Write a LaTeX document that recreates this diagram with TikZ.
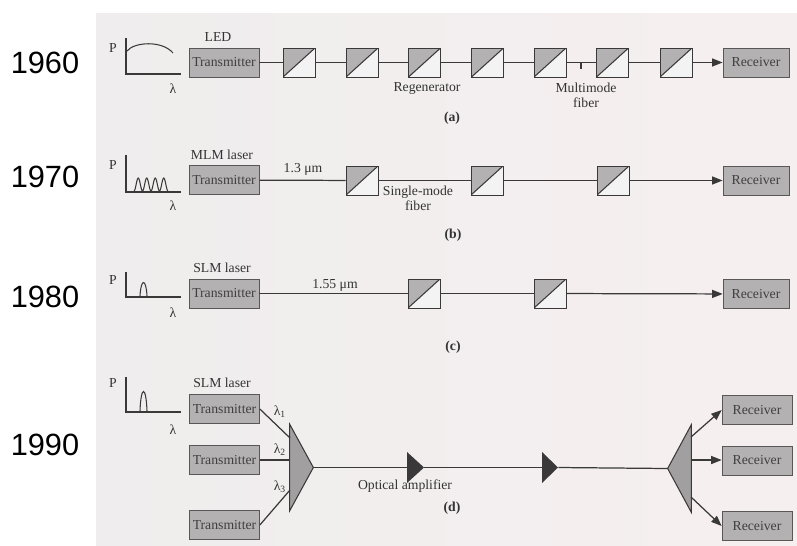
\documentclass[tikz,border=0pt]{standalone}
\usepackage{fontspec}
\setmainfont{Liberation Serif}
\newfontfamily\yearfont{Liberation Sans}
\usepackage{tikz}
\usetikzlibrary{arrows.meta, positioning, calc}
\definecolor{scanleft}{HTML}{EFEDED}
\definecolor{scanright}{HTML}{F6EFF0}
\definecolor{boxgray}{HTML}{B3B1B1}
\definecolor{linegray}{HTML}{3A3838}
\definecolor{lightface}{HTML}{F4F3F3}

\begin{document}
\begin{tikzpicture}[
    x=0.02cm, y=-0.02cm,
    line/.style={draw=linegray, line width=0.7pt},
    arrow/.style={-{Triangle[length=2.1mm, width=1.6mm]}, draw=linegray, line width=0.7pt},
    axis/.style={draw=linegray, line width=0.6pt},
    lbl/.style={font=\fontsize{7.8}{8.5}\selectfont, text=black!80, inner sep=1pt, align=center},
    caplbl/.style={lbl, font=\fontsize{7.8}{8.5}\selectfont\bfseries},
    year/.style={font=\yearfont\fontsize{17.5}{20}\selectfont, inner sep=0pt},
    txbox/.style={rectangle, draw=linegray!85, fill=boxgray, minimum width=1.4cm, minimum height=0.58cm, inner sep=0pt, font=\fontsize{7.8}{9}\selectfont, text=black!75},
    rxbox/.style={txbox, minimum width=1.32cm},
    regen/.style={rectangle, draw=linegray, fill=lightface, minimum width=0.64cm, minimum height=0.58cm, inner sep=0pt,
        path picture={\fill[boxgray] (path picture bounding box.south west) -- (path picture bounding box.north west) -- (path picture bounding box.north east) -- cycle;
            \draw[linegray, line width=0.6pt] (path picture bounding box.south west) -- (path picture bounding box.north east);}},
    amp/.style={rectangle, inner sep=0pt, minimum width=0.34cm, minimum height=0.62cm,
        path picture={\fill[linegray] (path picture bounding box.north west) -- (path picture bounding box.south west) -- (path picture bounding box.east) -- cycle;}},
    wdm/.style={rectangle, inner sep=0pt, minimum width=0.46cm, minimum height=1.72cm}
]
\useasboundingbox (0,0) rectangle (797,545);
\shade[left color=scanleft, right color=scanright] (96,13) rectangle (797,545);

% ===== YEARS =====
\node[year] (y60) at (45,63) {1960};
\node[year] (y70) at (45,177) {1970};
\node[year] (y80) at (45,297) {1980};
\node[year] (y90) at (45,445) {1990};

% ===== (a) LED + MULTIMODE FIBER =====
\draw[axis] (126,38) -- (126,74) -- (181,74);
\node[lbl] (pa) at (113,48) {P};
\node[lbl] (la) at (173,89) {λ};
\draw[axis] (127,51) .. controls (134,42) and (162,40) .. (173,53);

\node[lbl] (led) at (218,37) {LED};
\node[txbox] (txa) at (224,62.5) {Transmitter};
\foreach \i/\x in {1/299, 2/362, 3/424.5, 4/487.5, 5/550, 6/612.5, 7/676}
    \node[regen] (ra\i) at (\x,62.5) {};
\node[rxbox] (rxa) at (756,62.5) {Receiver};

\draw[line] (txa) -- (ra1);
\foreach \i/\j in {1/2, 2/3, 3/4, 4/5, 5/6, 6/7}
    \draw[line] (ra\i) -- (ra\j);
\draw[arrow] (ra7) -- (rxa);

\node[lbl] (regenlbl) at (427,88) {Regenerator};
\coordinate (mmtick) at (581,62.5);
\draw[line] (mmtick) -- ++(0,6.5);
\node[lbl] (mmlbl) at (586,95) {Multimode\\fiber};
\node[caplbl] (capa) at (452,118) {(a)};

% ===== (b) MLM LASER, 1.3 um =====
\draw[axis] (126,155) -- (126,192) -- (181,192);
\node[lbl] (pb) at (113,165) {P};
\node[lbl] (lb) at (173,206) {λ};
\draw[axis] plot[domain=0:4, samples=81, smooth] ({134+8.5*\x}, {191-13*(sin(180*\x))^2});

\node[lbl] (mlm) at (222,155) {MLM laser};
\node[txbox] (txb) at (224,180) {Transmitter};
\node[regen] (rb1) at (362,180.5) {};
\node[regen] (rb2) at (487,180.5) {};
\node[regen] (rb3) at (613,180.5) {};
\node[rxbox] (rxb) at (756,180.5) {Receiver};

\draw[line] (txb) -- (rb1);
\draw[line] (rb1) -- (rb2);
\draw[line] (rb2) -- (rb3);
\draw[arrow] (rb3) -- (rxb);

\node[lbl] (wlb) at (303,169) {1.3 μm};
\node[lbl] (smf) at (418,198) {Single-mode\\fiber};
\node[caplbl] (capb) at (453,235) {(b)};

% ===== (c) SLM LASER, 1.55 um =====
\draw[axis] (126,272) -- (126,297) -- (181,297);
\node[lbl] (pc) at (113,280) {P};
\node[lbl] (lc) at (173,313) {λ};
\draw[axis] (140,296) .. controls (141,278) and (146,278) .. (147,296);

\node[lbl] (slmc) at (222,268) {SLM laser};
\node[txbox] (txc) at (224,293.5) {Transmitter};
\node[regen] (rc1) at (424,293.5) {};
\node[regen] (rc2) at (550,293.5) {};
\node[rxbox] (rxc) at (756,294) {Receiver};

\draw[line] (txc) -- (rc1);
\draw[line] (rc1) -- (rc2);
\draw[arrow] (rc2) -- (rxc);

\node[lbl] (wlc) at (335,285) {1.55 μm};
\node[caplbl] (capc) at (453,347) {(c)};

% ===== (d) WDM + OPTICAL AMPLIFIERS =====
\draw[axis] (126,377) -- (126,412) -- (181,412);
\node[lbl] (pd) at (113,383) {P};
\node[lbl] (ld) at (173,430) {λ};
\draw[axis] (140,411) .. controls (141,385) and (146,385) .. (147,411);

\node[lbl] (slmd) at (222,383) {SLM laser};
\node[txbox] (txd1) at (224.5,409) {Transmitter};
\node[txbox] (txd2) at (224.5,460) {Transmitter};
\node[txbox] (txd3) at (224.5,525) {Transmitter};

% multiplexer
\node[wdm] (mux) at (301.5,467.5) {};
\filldraw[fill=boxgray!90!black, draw=linegray, line width=0.6pt] (mux.north west) -- (mux.south west) -- (mux.east) -- cycle;
\coordinate (in1) at (290,438);
\coordinate (in2) at (290,460);
\coordinate (in3) at (290,490);
\draw[line] (txd1.east) -- (in1);
\draw[line] (txd2.east) -- (in2);
\draw[line] (txd3.east) -- (in3);
\node[lbl] (l1) at (280,412) {λ\textsubscript{1}};
\node[lbl] (l2) at (280,450) {λ\textsubscript{2}};
\node[lbl] (l3) at (280,487) {λ\textsubscript{3}};

% amplifiers
\node[amp] (amp1) at (415.5,467.5) {};
\node[amp, minimum width=0.32cm] (amp2) at (550,467.5) {};
\node[lbl] (amplbl) at (405,486) {Optical amplifier};

% demultiplexer
\node[wdm, minimum height=1.74cm] (demux) at (679.5,468.5) {};
\filldraw[fill=boxgray!90!black, draw=linegray, line width=0.6pt] (demux.north east) -- (demux.south east) -- (demux.west) -- cycle;
\coordinate (out1) at (691,437);
\coordinate (out2) at (691,460);
\coordinate (out3) at (691,497);

\draw[line] (mux.east) -- (amp1.west);
\draw[line] (amp1.east) -- (amp2.west);
\draw[line] (amp2.east) -- (demux.west);

\node[rxbox, minimum width=1.4cm] (rxd1) at (757,410) {Receiver};
\node[rxbox, minimum width=1.4cm] (rxd2) at (757,460.5) {Receiver};
\node[rxbox, minimum width=1.4cm] (rxd3) at (757,526) {Receiver};
\draw[arrow] (out1) -- (rxd1.west);
\draw[arrow] (out2) -- (out2 -| rxd2.west);
\draw[arrow] (out3) -- (rxd3.west);

\node[caplbl] (capd) at (452,508) {(d)};

\end{tikzpicture}
\end{document}
